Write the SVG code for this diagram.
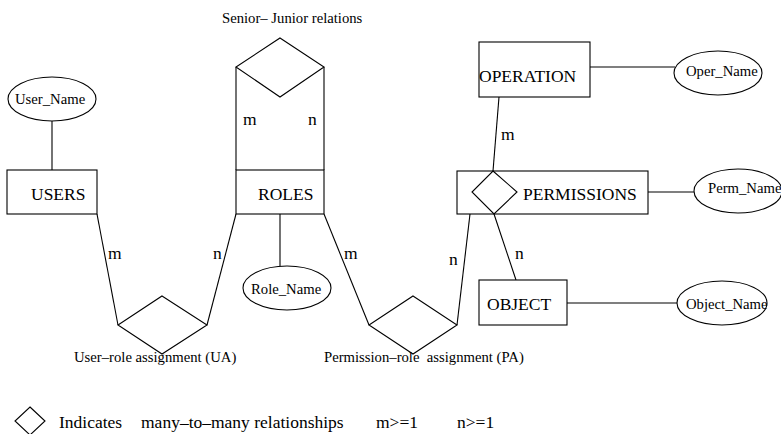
<svg xmlns="http://www.w3.org/2000/svg" width="781" height="434" viewBox="0 0 781 434" font-family="'Liberation Serif', 'Times New Roman', serif">
  <style>
    .shape { fill: #fff; stroke: #000; stroke-width: 1.1; }
    .link { fill: none; stroke: #000; stroke-width: 1.1; }
    text { font-family: "Liberation Serif", "Times New Roman", serif; fill: #000; }
    .big { font-size: 17.5px; }
    .small { font-size: 14.7px; }
  </style>
  <rect width="781" height="434" fill="#fff"/>

  <g id="connectors">
    <!-- attribute links -->
    <line class="link" x1="52" y1="121" x2="52" y2="170"/>
    <line class="link" x1="280" y1="214" x2="280" y2="266"/>
    <line class="link" x1="590" y1="67" x2="675" y2="67"/>
    <line class="link" x1="648" y1="192" x2="694" y2="192"/>
    <line class="link" x1="567" y1="303" x2="677" y2="303"/>
    <!-- senior/junior hierarchy sides -->
    <line class="link" x1="236" y1="67" x2="236" y2="170"/>
    <line class="link" x1="324" y1="67" x2="324" y2="170"/>
    <!-- UA -->
    <line class="link" x1="97" y1="214" x2="118" y2="325"/>
    <line class="link" x1="207" y1="325" x2="236" y2="214"/>
    <!-- PA -->
    <line class="link" x1="324" y1="214" x2="369" y2="325"/>
    <line class="link" x1="457" y1="325" x2="470" y2="214"/>
    <!-- operation / object to permissions -->
    <line class="link" x1="499" y1="97" x2="493" y2="171"/>
    <line class="link" x1="494" y1="214" x2="516" y2="280"/>
  </g>

  <!-- cardinality labels -->
  <g id="cardinalities" class="big">
    <text x="243" y="125">m</text>
    <text x="308" y="125">n</text>
    <text x="108" y="259">m</text>
    <text x="213" y="259">n</text>
    <text x="344" y="259">m</text>
    <text x="449" y="265">n</text>
    <text x="515" y="259">n</text>
    <text x="501" y="140">m</text>
  </g>

  <g id="senior-junior">
    <polygon class="shape" points="280,38 324,67 280,97 236,67"/>
    <text class="small" x="222" y="23">Senior– Junior relations</text>
  </g>

  <g id="user-name">
    <ellipse class="shape" cx="52" cy="99" rx="44" ry="22"/>
    <text class="small" x="15" y="104">User_Name</text>
  </g>

  <g id="users">
    <rect class="shape" x="7" y="170" width="90" height="44"/>
    <text class="big" x="31" y="200">USERS</text>
  </g>

  <g id="roles">
    <rect class="shape" x="236" y="170" width="88" height="44"/>
    <text class="big" x="258" y="200">ROLES</text>
  </g>

  <g id="role-name">
    <ellipse class="shape" cx="287" cy="288" rx="44" ry="22"/>
    <text class="small" x="251" y="294">Role_Name</text>
  </g>

  <g id="ua">
    <polygon class="shape" points="162,296 207,325 162,354 118,325"/>
    <text class="small" x="74" y="362">User–role assignment (UA)</text>
  </g>

  <g id="pa">
    <polygon class="shape" points="413,296 457,325 413,354 369,325"/>
    <text class="small" x="324" y="362" xml:space="preserve">Permission–role  assignment (PA)</text>
  </g>

  <g id="operation">
    <rect class="shape" x="479" y="42" width="111" height="55"/>
    <text class="big" x="479" y="82">OPERATION</text>
  </g>

  <g id="oper-name">
    <ellipse class="shape" cx="718" cy="73" rx="44" ry="22"/>
    <text class="small" x="686" y="76">Oper_Name</text>
  </g>

  <g id="permissions">
    <rect class="shape" x="457" y="171" width="191" height="43"/>
    <polygon class="shape" points="493,171 517,192 494,214 472,192"/>
    <text class="big" x="523" y="200">PERMISSIONS</text>
  </g>

  <g id="perm-name">
    <ellipse class="shape" cx="738" cy="191" rx="44" ry="22"/>
    <text class="small" x="708" y="193">Perm_Name</text>
  </g>

  <g id="object">
    <rect class="shape" x="479" y="280" width="88" height="45"/>
    <text class="big" x="487" y="310">OBJECT</text>
  </g>

  <g id="object-name">
    <ellipse class="shape" cx="722" cy="303" rx="45" ry="22"/>
    <text class="small" x="686" y="309">Object_Name</text>
  </g>

  <g id="legend">
    <polygon class="shape" points="30,407 45,421 30,435 15,421"/>
    <text class="big" y="428">
      <tspan x="59">Indicates</tspan>
      <tspan x="141">many–to–many relationships</tspan>
      <tspan x="376">m&gt;=1</tspan>
      <tspan x="457">n&gt;=1</tspan>
    </text>
  </g>
</svg>
